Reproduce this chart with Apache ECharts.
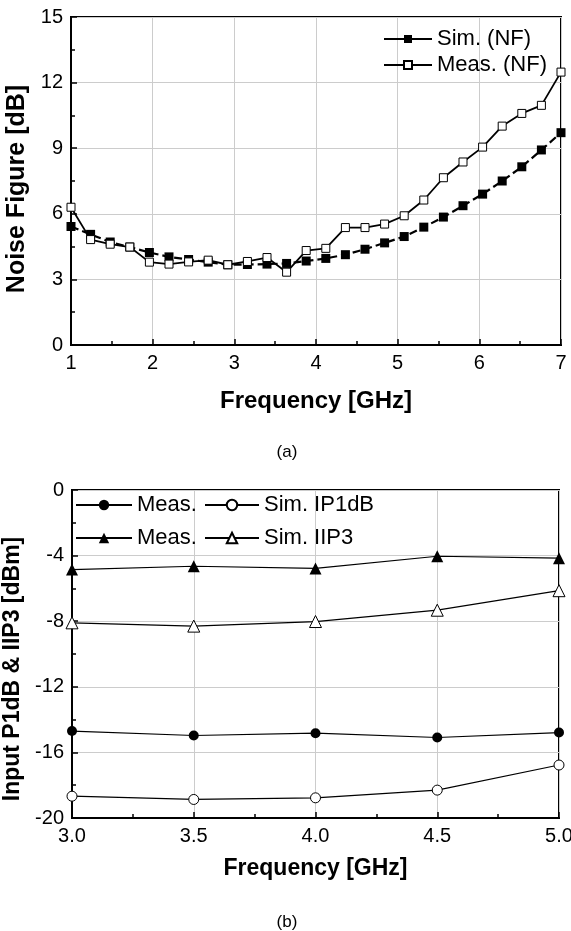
<!DOCTYPE html>
<html>
<head>
<meta charset="utf-8">
<script src="https://cdn.jsdelivr.net/npm/echarts@6/dist/echarts.min.js"></script>
<style>
  html, body { margin: 0; padding: 0; background: #fff; }
  #chart { width: 571px; height: 931px; }
</style>
</head>
<body>
<div id="chart"></div>
<script>
// (a) noise figure vs frequency
var nfFreq = [1.00, 1.24, 1.48, 1.72, 1.96, 2.20, 2.44, 2.68, 2.92, 3.16, 3.40, 3.64, 3.88,
              4.12, 4.36, 4.60, 4.84, 5.08, 5.32, 5.56, 5.80, 6.04, 6.28, 6.52, 6.76, 7.00]
var nfSim = [5.42, 5.06, 4.71, 4.48, 4.23, 4.03, 3.91, 3.79, 3.67, 3.68, 3.70, 3.73, 3.84,
             3.96, 4.13, 4.38, 4.67, 4.96, 5.39, 5.85, 6.37, 6.90, 7.50, 8.15, 8.92, 9.71]
var nfMeas = [6.30, 4.82, 4.61, 4.48, 3.79, 3.70, 3.80, 3.88, 3.67, 3.82, 4.00, 3.33, 4.32,
              4.42, 5.37, 5.37, 5.53, 5.91, 6.63, 7.65, 8.37, 9.05, 10.01, 10.59, 10.96, 12.48]

// (b) input P1dB & IIP3 vs frequency
var linFreq = [3.0, 3.5, 4.0, 4.5, 5.0]
var p1dbMeas = [-14.70, -14.97, -14.83, -15.09, -14.79]
var p1dbSim = [-18.67, -18.87, -18.77, -18.30, -16.77]
var iip3Meas = [-4.85, -4.65, -4.78, -4.04, -4.16]
var iip3Sim = [-8.10, -8.30, -8.02, -7.33, -6.14]

var font = "'Liberation Sans', Arial, sans-serif"

function pairs(xs, ys) {
  return xs.map(function (x, i) { return [x, ys[i]] })
}

// common look of the boxed axes
function axis(gridIndex, min, max, interval, name, nameGap, digits, nameSize, namePad) {
  return {
    gridIndex: gridIndex,
    type: 'value',
    min: min,
    max: max,
    interval: interval,
    name: name,
    nameLocation: 'middle',
    nameGap: nameGap,
    nameTextStyle: { fontSize: nameSize, fontWeight: 'bold', color: '#000', fontFamily: font, padding: namePad },
    axisLine: { show: true, onZero: false, lineStyle: { color: '#000', width: 2 } },
    axisTick: { show: true, inside: true, length: 6, lineStyle: { color: '#000', width: 1.5 } },
    minorTick: { show: true, splitNumber: 2, length: 4, lineStyle: { color: '#000', width: 1.5 } },
    axisLabel: {
      fontSize: 20, color: '#000', margin: 8, fontFamily: font,
      showMinLabel: true, showMaxLabel: true,
      formatter: function (v) { return v.toFixed(digits) }
    },
    splitLine: { show: true, lineStyle: { color: '#cccccc', width: 1 } },
    minorSplitLine: { show: false }
  }
}

var legendText = { fontSize: 22, color: '#000', fontFamily: font }

var chart = echarts.init(document.getElementById('chart'), null, { renderer: 'canvas' })
var option = {
  backgroundColor: '#fff',
  animation: false,
  grid: [
    { left: 71, top: 17, right: 10, height: 328, show: true, borderColor: '#000', borderWidth: 2, outerBoundsMode: 'none' },
    { left: 72, top: 490, right: 12, height: 328, show: true, borderColor: '#000', borderWidth: 2, outerBoundsMode: 'none' }
  ],
  xAxis: [
    axis(0, 1, 7, 1, 'Frequency [GHz]', 44, 0, 24, 0),
    axis(1, 3, 5, 0.5, 'Frequency [GHz]', 39, 1, 23, 0)
  ],
  yAxis: [
    axis(0, 0, 15, 3, 'Noise Figure [dB]', 23, 0, 25, [0, 16, 0, 0]),
    axis(1, -20, 0, 4, 'Input P1dB & IIP3 [dBm]', 24, 0, 23, [0, 30, 0, 0])
  ],
  legend: [
    {
      data: ['Sim. (NF)', 'Meas. (NF)'],
      orient: 'vertical', left: 383, top: 28, padding: 0, itemGap: 4,
      itemWidth: 48, itemHeight: 10, selectedMode: false,
      lineStyle: { type: 'solid', width: 2 },
      textStyle: legendText
    },
    {
      data: ['Meas. P1dB', 'Meas. IIP3'],
      orient: 'vertical', left: 75, top: 494, padding: 0, itemGap: 11,
      itemWidth: 56, itemHeight: 13, selectedMode: false,
      formatter: function () { return 'Meas.' },
      textStyle: legendText
    },
    {
      data: ['Sim. IP1dB', 'Sim. IIP3'],
      orient: 'vertical', left: 204, top: 494, padding: 0, itemGap: 11,
      itemWidth: 54, itemHeight: 13, selectedMode: false,
      textStyle: legendText
    }
  ],
  graphic: [
    { type: 'text', x: 287, y: 452, style: { text: '(a)', fontSize: 17, fontFamily: font, fill: '#000', align: 'center', verticalAlign: 'middle' } },
    { type: 'text', x: 287, y: 922, style: { text: '(b)', fontSize: 17, fontFamily: font, fill: '#000', align: 'center', verticalAlign: 'middle' } }
  ],
  series: [
    {
      name: 'Sim. (NF)', type: 'line', xAxisIndex: 0, yAxisIndex: 0,
      symbol: 'rect', symbolSize: 9,
      itemStyle: { color: '#000' },
      lineStyle: { color: '#000', width: 2.2, type: [8, 4] },
      data: pairs(nfFreq, nfSim)
    },
    {
      name: 'Meas. (NF)', type: 'line', xAxisIndex: 0, yAxisIndex: 0,
      symbol: 'rect', symbolSize: 8,
      itemStyle: { color: '#fff', borderColor: '#000', borderWidth: 1 },
      lineStyle: { color: '#000', width: 1.8 },
      data: pairs(nfFreq, nfMeas)
    },
    {
      name: 'Meas. P1dB', type: 'line', xAxisIndex: 1, yAxisIndex: 1,
      symbol: 'circle', symbolSize: 10,
      itemStyle: { color: '#000' },
      lineStyle: { color: '#000', width: 1.2 },
      data: pairs(linFreq, p1dbMeas)
    },
    {
      name: 'Sim. IP1dB', type: 'line', xAxisIndex: 1, yAxisIndex: 1,
      symbol: 'circle', symbolSize: 10,
      itemStyle: { color: '#fff', borderColor: '#000', borderWidth: 1 },
      lineStyle: { color: '#000', width: 1.2 },
      data: pairs(linFreq, p1dbSim)
    },
    {
      name: 'Meas. IIP3', type: 'line', xAxisIndex: 1, yAxisIndex: 1,
      symbol: 'triangle', symbolSize: 12,
      itemStyle: { color: '#000' },
      lineStyle: { color: '#000', width: 1.2 },
      data: pairs(linFreq, iip3Meas)
    },
    {
      name: 'Sim. IIP3', type: 'line', xAxisIndex: 1, yAxisIndex: 1,
      symbol: 'triangle', symbolSize: 12,
      itemStyle: { color: '#fff', borderColor: '#000', borderWidth: 1 },
      lineStyle: { color: '#000', width: 1.2 },
      data: pairs(linFreq, iip3Sim)
    }
  ]
}
chart.setOption(option)
</script>
</body>
</html>
